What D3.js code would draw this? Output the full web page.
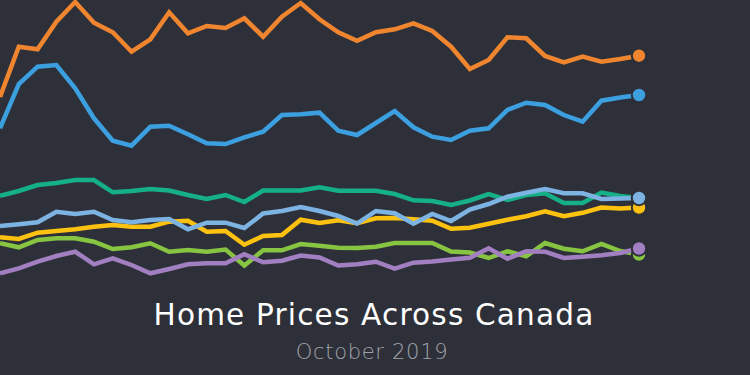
<!DOCTYPE html>
<html>
<head>
<meta charset="utf-8">
<script src="https://cdn.jsdelivr.net/npm/d3@7"></script>
<style>
  html, body { margin: 0; padding: 0; background: #2e3039; }
  svg { display: block; }
</style>
</head>
<body>
<svg id="chart" width="750" height="375"></svg>
<script>
// Months: Dec 2016 – Oct 2019
const months = ["2016-12",
  "2017-01","2017-02","2017-03","2017-04","2017-05","2017-06","2017-07","2017-08","2017-09","2017-10","2017-11","2017-12",
  "2018-01","2018-02","2018-03","2018-04","2018-05","2018-06","2018-07","2018-08","2018-09","2018-10","2018-11","2018-12",
  "2019-01","2019-02","2019-03","2019-04","2019-05","2019-06","2019-07","2019-08","2019-09","2019-10"];

// Relative price index values
const seriesOrange = [203,253.3,250.7,278.3,298,277.3,267.7,248.3,260.7,287.7,266.7,274,272,281.7,263.3,283.3,297,280.7,267.7,259.3,267.7,270.7,276.7,269,253.3,231,240,262.7,261.7,244,237.7,243.3,238.3,241,244.3];
const seriesBlue = [171.7,216,233.3,235,211.7,181.7,159.3,154.3,173.3,174.3,165.7,156.7,156,162.7,168.3,185,185.7,187.3,169.3,165,177,189,172.7,163.3,160,169.3,171.7,190,197.3,195,185,178.3,199.3,202.5,205];
const seriesTeal = [104.3,109,115,117,120,120,107.7,109,111,109.5,105,101,105,98,109.5,109.5,109.5,112.7,109.3,109.3,109.3,106,99.7,99,95,99.5,106,100,105,106.7,97,97,107.5,104,102];
const seriesYellow = [62.7,61,67.3,69,70.7,73.3,75,73.3,73.3,78.3,79.3,68.3,69,55.3,64,65,80.3,77,79.7,76.7,81.7,82,80.7,79.3,71.2,72.2,76.3,80.3,83.8,88.7,83.8,87.2,92.5,91.5,92.5];
const seriesLime = [56.7,52.7,60,61.7,61.7,58.3,51,52.7,56.7,48.3,50,48.3,50.5,34.5,49.7,49.7,56,54.2,52.2,52,53.3,57,57,57,48.5,47.5,42,48.7,43.7,57,51.3,48.7,56,49,45.5];
const seriesLightBlue = [74,75.7,77.7,88.3,86,88.3,80,77.7,80,81,70.7,77.3,77.3,72,86.5,89,93,89,84,76.5,89,86.7,76.3,86,79,90.5,96,103.3,107.3,111,106.7,106.7,101,101.5,102];
const seriesPurple = [26.7,31.7,38.3,44,48.3,35.7,41.7,35,26.7,31,35.7,36.7,36.7,45.8,37.7,39.3,44.5,42.5,34.5,35.7,38.3,31.3,37.3,38.5,40.5,42.2,51.7,41.3,48.8,48.3,42,43.3,44.7,47,51.5];

const seriesNames = ["A","B","C","D","E","F","G"];
const seriesColors = ["#f0852f","#3b9fe0","#15b088","#fdc20f","#86c441","#7cb3e2","#a17fc0"];
const seriesValues = [seriesOrange, seriesBlue, seriesTeal, seriesYellow, seriesLime, seriesLightBlue, seriesPurple];

const title = "Home Prices Across Canada";
const subtitle = "October 2019";

const bg = "#2e3039";
const svg = d3.select("#chart");
svg.append("rect").attr("width", 750).attr("height", 375).attr("fill", bg);

const x = d3.scalePoint().domain(months).range([0, 639]);
const y = d3.scaleLinear().domain([0, 300]).range([300, 0]);

const line = d3.line()
  .x((d, i) => x(months[i]))
  .y(d => y(d));

const series = seriesNames.map((n, k) => ({ name: n, color: seriesColors[k], values: seriesValues[k] }));

const g = svg.append("g");
series.forEach(s => {
  g.append("path")
    .datum(s.values)
    .attr("d", line)
    .attr("fill", "none")
    .attr("stroke", s.color)
    .attr("stroke-width", 4.5)
    .attr("stroke-linejoin", "miter");
});
series.forEach(s => {
  g.append("circle")
    .attr("cx", x(months[months.length - 1]))
    .attr("cy", y(s.values[s.values.length - 1]))
    .attr("r", 7.2)
    .attr("fill", s.color)
    .attr("stroke", bg)
    .attr("stroke-width", 2);
});

svg.append("text")
  .attr("x", 374).attr("y", 325)
  .attr("text-anchor", "middle")
  .attr("font-family", "'DejaVu Sans', sans-serif")
  .attr("font-size", 29.5)
  .attr("letter-spacing", 1.2)
  .attr("fill", "#ffffff")
  .text(title);

svg.append("text")
  .attr("x", 372).attr("y", 359)
  .attr("text-anchor", "middle")
  .attr("font-family", "'DejaVu Sans', sans-serif")
  .attr("font-weight", 200)
  .attr("font-size", 21)
  .attr("letter-spacing", 0.7)
  .attr("fill", "#a2a4ab")
  .text(subtitle);
</script>
</body>
</html>
